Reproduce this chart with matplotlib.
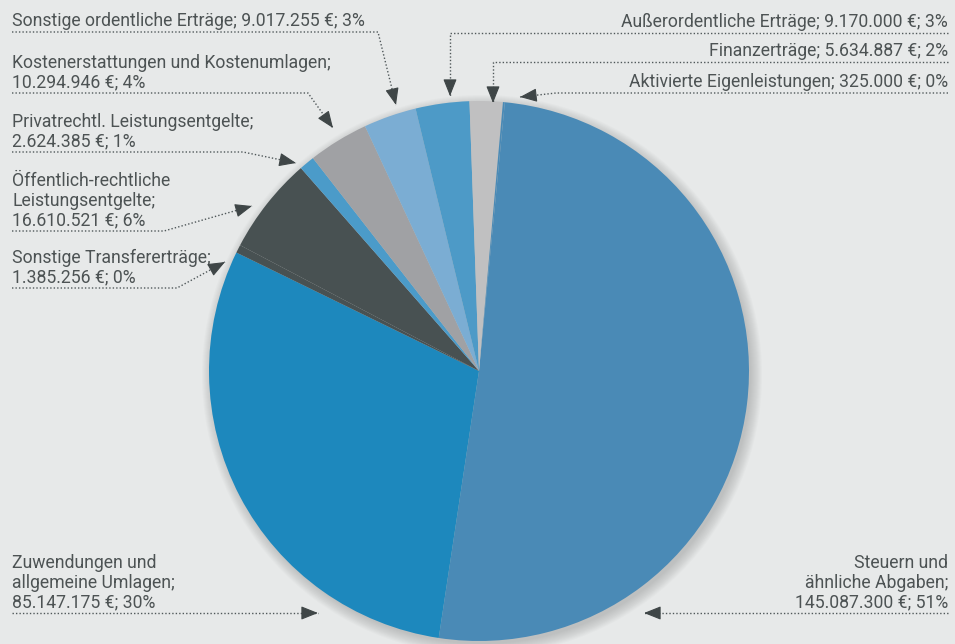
import matplotlib
matplotlib.use("Agg")
import matplotlib.pyplot as plt
from matplotlib.patches import Circle
import numpy as np

# data
categories = [
    "Steuern und\nähnliche Abgaben",
    "Zuwendungen und\nallgemeine Umlagen",
    "Sonstige Transfererträge",
    "Öffentlich-rechtliche\nLeistungsentgelte",
    "Privatrechtl. Leistungsentgelte",
    "Kostenerstattungen und Kostenumlagen",
    "Sonstige ordentliche Erträge",
    "Außerordentliche Erträge",
    "Finanzerträge",
    "Aktivierte Eigenleistungen",
]
amounts = [145087300, 85147175, 1385256, 16610521, 2624385,
           10294946, 9017255, 9170000, 5634887, 325000]
amount_labels = ["145.087.300", "85.147.175", "1.385.256", "16.610.521", "2.624.385",
                 "10.294.946", "9.017.255", "9.170.000", "5.634.887", "325.000"]
percents = [51, 30, 0, 6, 1, 4, 3, 3, 2, 0]

colors = ["#4a8ab6", "#1d88bd", "#485152", "#485152", "#4b9bc9",
          "#a0a1a4", "#7badd3", "#4d9ac7", "#c0c0c1", "#4a8ab6"]

W, H = 955, 644
BG = "#e7e9e9"
TXT = "#4d5354"
LINE = "#50585a"

fig = plt.figure(figsize=(W / 100, H / 100), dpi=100, facecolor=BG)
ax = fig.add_axes([0, 0, 1, 1])
ax.set_facecolor(BG)


def P(x, y):
    return x, H - y


cx, cy = P(479, 371)
R = 270

# soft shadow
for k in range(12):
    ax.add_patch(Circle((cx + 3, cy - 4), R + 10 - k, color="#7f8282",
                        alpha=0.035, lw=0, zorder=0))

ax.pie(amounts, colors=colors, startangle=84.5, counterclock=False,
       center=(cx, cy), radius=R, wedgeprops=dict(linewidth=0), frame=True)
ax.set_xlim(0, W)
ax.set_ylim(0, H)
ax.set_aspect("auto")
ax.axis("off")

plt.rcParams["font.family"] = ["Roboto", "DejaVu Sans"]
FS = 12.7

# layout: text anchor (x, underline y, side), path of the pointer line
layout = {
    6: ((12, 32, "l"), [(12, 32), (378, 32), (396, 105)]),
    5: ((12, 93, "l"), [(12, 93), (308, 93), (333, 128)]),
    4: ((12, 152, "l"), [(12, 152), (243, 152), (296, 163)]),
    3: ((12, 231, "l"), [(12, 231), (164, 231), (252, 206)]),
    2: ((12, 288, "l"), [(12, 288), (177, 288), (225, 262)]),
    1: ((12, 613, "l"), [(12, 613), (318, 613)]),
    0: ((948, 613, "r"), [(948, 613), (644, 613)]),
    7: ((948, 33, "r"), [(948, 33), (450, 33), (450, 96)]),
    8: ((948, 62, "r"), [(948, 62), (493, 62), (493, 103)]),
    9: ((948, 93, "r"), [(948, 93), (556, 93), (520, 97)]),
}

for i, ((tx, ty, side), path) in layout.items():
    if i in (6, 7, 8, 9):
        label = f"{categories[i]}; {amount_labels[i]} €; {percents[i]}%"
    else:
        label = f"{categories[i]};\n{amount_labels[i]} €; {percents[i]}%"
    x, y = P(tx, ty - 2)
    ax.text(x, y, label, ha="left" if side == "l" else "right", va="bottom",
            fontsize=FS, color=TXT, linespacing=1.1)
    pts = np.array([P(px, py) for px, py in path])
    ax.plot(pts[:, 0], pts[:, 1], ls=(0, (1, 1.5)), lw=1.0, color=LINE,
            solid_capstyle="butt")
    tip = pts[-1]
    d = pts[-1] - pts[-2]
    d = d / np.hypot(*d)
    ax.annotate("", xy=tip, xytext=tip - d * 15,
                arrowprops=dict(arrowstyle="-|>,head_length=0.75,head_width=0.3",
                                color="#3f4647", lw=0.8, shrinkA=0, shrinkB=0,
                                mutation_scale=14))

fig.savefig("out.png", dpi=100, facecolor=BG)
